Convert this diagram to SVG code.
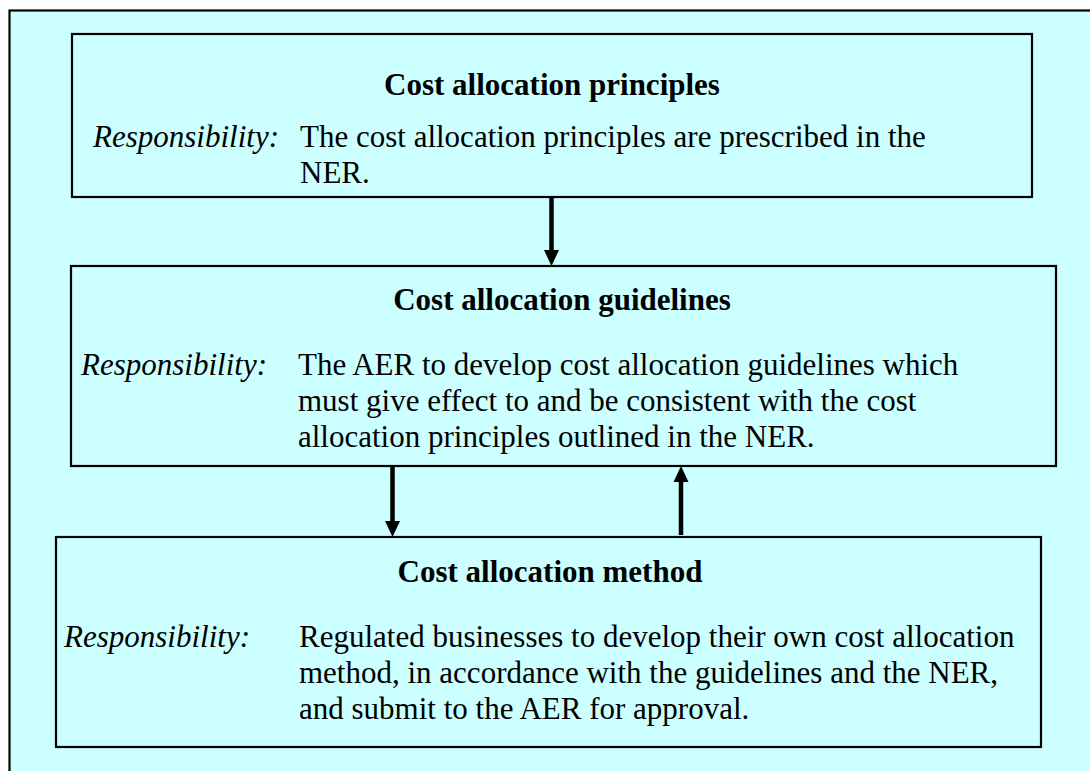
<svg xmlns="http://www.w3.org/2000/svg" width="1090" height="771" viewBox="0 0 1090 771">
  <style>
    .box { fill: #CCFFFF; stroke: #000; stroke-width: 2.2; }
    .title { font-family: "Liberation Serif", "Times New Roman", serif; font-size: 31px; font-weight: bold; text-anchor: middle; fill: #000; }
    .lbl { font-family: "Liberation Serif", "Times New Roman", serif; font-size: 31px; font-style: italic; fill: #000; }
    .body { font-family: "Liberation Serif", "Times New Roman", serif; font-size: 31px; fill: #000; }
    .shaft { stroke: #000; stroke-width: 4.5; fill: none; }
    .head { fill: #000; }
  </style>
  <rect width="1090" height="771" fill="#fff"/>
  <!-- outer frame, open to the right and bottom -->
  <rect x="9.5" y="10.5" width="1100" height="780" class="box"/>

  <g id="principles">
    <rect x="72" y="34" width="960" height="163" class="box"/>
    <text x="552" y="95" class="title">Cost allocation principles</text>
    <text x="93" y="147" class="lbl">Responsibility:</text>
    <text x="300" y="147" class="body">The cost allocation principles are prescribed in the</text>
    <text x="300" y="183" class="body">NER.</text>
  </g>

  <g id="guidelines">
    <rect x="71" y="266" width="985" height="200" class="box"/>
    <text x="562" y="310" class="title">Cost allocation guidelines</text>
    <text x="81" y="375" class="lbl">Responsibility:</text>
    <text x="298" y="375" class="body">The AER to develop cost allocation guidelines which</text>
    <text x="298" y="411" class="body">must give effect to and be consistent with the cost</text>
    <text x="298" y="447" class="body">allocation principles outlined in the NER.</text>
  </g>

  <g id="method">
    <rect x="56" y="537" width="985" height="210" class="box"/>
    <text x="550" y="582" class="title">Cost allocation method</text>
    <text x="64" y="647" class="lbl">Responsibility:</text>
    <text x="299" y="647" class="body">Regulated businesses to develop their own cost allocation</text>
    <text x="299" y="683" class="body">method, in accordance with the guidelines and the NER,</text>
    <text x="299" y="719" class="body">and submit to the AER for approval.</text>
  </g>

  <g id="connectors">
    <line x1="551.5" y1="197" x2="551.5" y2="252" class="shaft"/>
    <polygon points="544,250 559,250 551.5,266" class="head"/>
    <line x1="392.5" y1="466" x2="392.5" y2="523" class="shaft"/>
    <polygon points="385,521 400,521 392.5,537" class="head"/>
    <line x1="681" y1="535" x2="681" y2="480" class="shaft"/>
    <polygon points="673.5,482 688.5,482 681,466" class="head"/>
  </g>
</svg>
